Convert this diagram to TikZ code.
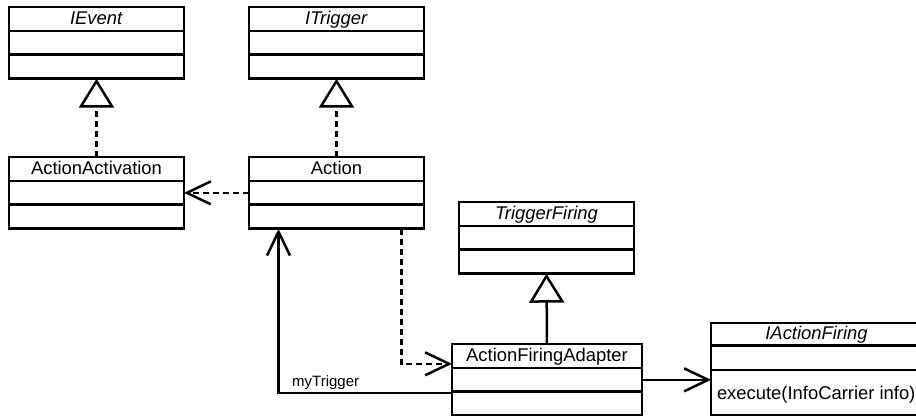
\documentclass[tikz,border=0pt]{standalone}
\usepackage{fontspec}
\setmainfont{Liberation Sans}
\usetikzlibrary{positioning}
\usetikzlibrary{calc}
\usetikzlibrary{arrows.meta}
\usetikzlibrary{shapes.multipart}

% fixed height of one class compartment
\newcommand{\cpart}[1][10.6pt]{\rule[-2.3pt]{0pt}{#1}}

\begin{document}
\begin{tikzpicture}[x=0.5pt, y=-0.5pt,
    umlclass/.style={draw, line width=1.35pt, rectangle split, rectangle split parts=3,
        inner xsep=3pt, inner ysep=0pt, outer sep=0pt, minimum width=87.5pt,
        anchor=north west, font=\fontsize{9.2}{11}\selectfont},
    realize/.style={line width=1.25pt, dash pattern=on 3pt off 2pt,
        -{Triangle[open, length=14.5pt, width=17.5pt]}},
    inherit/.style={line width=1.25pt, -{Triangle[open, length=14.5pt, width=17.5pt]}},
    depend/.style={line width=1.25pt, dash pattern=on 3pt off 2pt,
        -{Straight Barb[length=12pt, width=11.5pt]}},
    assoc/.style={line width=1.25pt, -{Straight Barb[length=12pt, width=11.5pt]}}]
    \useasboundingbox (0,0) rectangle (916,416);

    \node[umlclass] (ievent) at (9,7) {\cpart\textit{IEvent}\nodepart{second}\cpart\nodepart{third}\cpart};
    \node[umlclass] (itrig) at (249,7) {\cpart\textit{ITrigger}\nodepart{second}\cpart\nodepart{third}\cpart};
    \node[umlclass] (aact) at (9,157) {\cpart ActionActivation\nodepart{second}\cpart\nodepart{third}\cpart};
    \node[umlclass] (act) at (249,157) {\cpart Action\nodepart{second}\cpart\nodepart{third}\cpart};
    \node[umlclass] (tf) at (459,202) {\cpart\textit{TriggerFiring}\nodepart{second}\cpart\nodepart{third}\cpart};
    \node[umlclass, minimum width=95pt] (afa) at (452,344)
        {\cpart ActionFiringAdapter\nodepart{second}\cpart\nodepart{third}\cpart};
    \node[umlclass, minimum width=105.5pt, rectangle split part align={center,center,left}] (iaf) at (711,323)
        {\cpart[9.9pt]\textit{IActionFiring}\nodepart{second}\cpart[10.9pt]\nodepart{third}\rule[-7.3pt]{0pt}{21.4pt}execute(InfoCarrier info)};

    \draw[realize] (aact.north) -- (ievent.south);
    \draw[realize] (act.north) -- (itrig.south);
    \draw[depend] (act.west) -- (aact.east);
    \draw[depend] ($(act.south)+(65,0)$) |- ([yshift=8pt]afa.west);
    \draw[assoc] ([yshift=-6.5pt]afa.west) -| ($(act.south)+(-58,0)$)
        node[pos=0.364, above, inner sep=1pt, font=\fontsize{7.5}{9}\selectfont] (mytrig) {myTrigger};
    \draw[inherit] (afa.north) -- (tf.south);
    \draw[assoc] (afa.east) -- (afa.east -| iaf.west);
\end{tikzpicture}
\end{document}
